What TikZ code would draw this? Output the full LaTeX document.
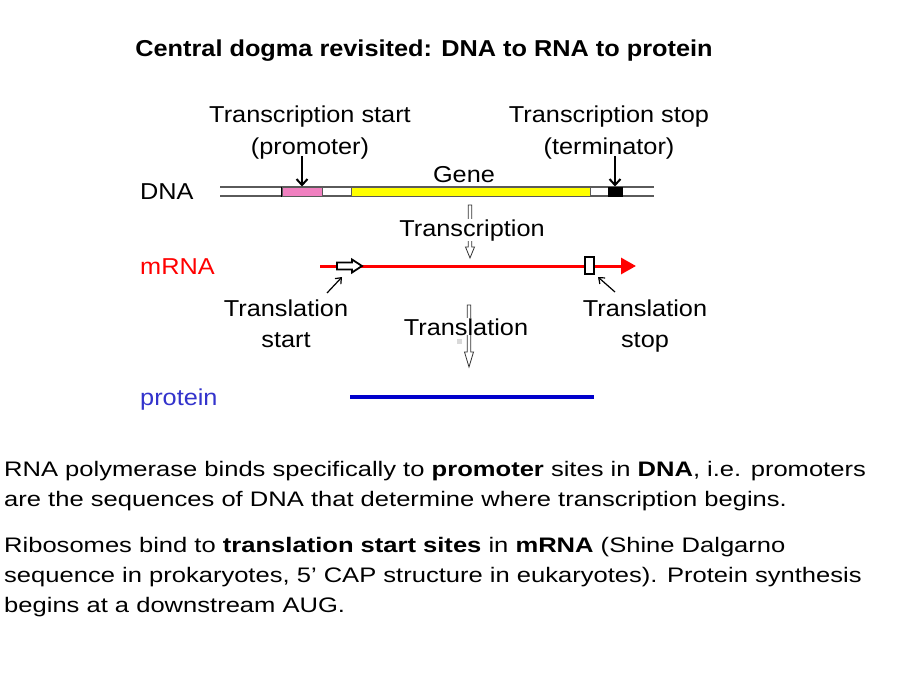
\documentclass[tikz,border=0pt]{standalone}
\usepackage{fontspec}
\setmainfont{Liberation Sans}
\newfontfamily\labfont[FakeStretch=1.1]{Liberation Sans}
\newfontfamily\parfont[FakeStretch=1.217]{Liberation Sans}
\usetikzlibrary{arrows.meta}
\definecolor{mred}{RGB}{255,0,0}
\definecolor{pblue}{RGB}{0,0,204}
\definecolor{ptext}{RGB}{51,51,204}
\definecolor{pinkc}{RGB}{240,128,192}
\definecolor{yell}{RGB}{255,255,0}
\definecolor{dnag}{RGB}{90,90,90}
\begin{document}
\begin{tikzpicture}[x=1pt,y=-1pt,
  titlestyle/.style={font=\labfont\bfseries\fontsize{23}{27}\selectfont, inner sep=0pt, anchor=base},
  lab/.style={font=\labfont\fontsize{23}{27}\selectfont, inner sep=0pt, anchor=base},
  paraline/.style={font=\parfont\fontsize{21}{25}\selectfont, inner sep=0pt, anchor=base west},
  dnabox/.style={draw=dnag, line width=1pt, minimum height=9pt, inner sep=0pt},
  downarrow/.style={black, line width=2pt, -{Straight Barb[length=6pt,width=11pt]}},
  pointer/.style={black, line width=1.2pt, -{Straight Barb[length=5pt,width=8pt]}},
  hollow/.style={draw=black!80, line width=0.8pt, fill=white}]
\fill[white] (0,0) rectangle (920,690);
\useasboundingbox (0,0) rectangle (920,690);

% title
\node[titlestyle] (title) at (424,57) {Central dogma revisited: DNA to RNA to protein};

% top labels
\node[lab] (tss1) at (310,122) {Transcription start};
\node[lab] (tss2) at (310,154) {(promoter)};
\node[lab] (tst1) at (609,122) {Transcription stop};
\node[lab] (tst2) at (609,154) {(terminator)};

% DNA
\node[lab, anchor=base west] (dnal) at (140,199) {DNA};
\draw[dnag, line width=1.3pt] (220,187) -- (654,187) (220,196) -- (654,196);
\node[dnabox, fill=pinkc, minimum width=40pt] (prom) at (302,191.5) {};
\draw[black, line width=1.2pt] (prom.north west) -- (prom.south west);
\node[dnabox, fill=yell, minimum width=239pt] (genebox) at (470.5,191.5) {};
\node[dnabox, draw=black, fill=black, minimum width=14pt] (term) at (615,191.5) {};
\node[lab] (gene) at (464,182) {Gene};
\coordinate (pa) at (302,156);
\coordinate (ta) at (615,156);
\draw[downarrow] (pa) -- (prom.north);
\draw[downarrow] (ta) -- (term.north);

% transcription arrow
\draw[hollow] (468.2,205) -- (471.8,205) -- (471.8,247) -- (474.5,247) -- (470,258) -- (465.5,247) -- (468.2,247) -- cycle;
\node[lab, fill=white] (trx) at (472,236) {Transcription};

% mRNA
\node[lab, anchor=base west, text=mred] (mrnal) at (140,274) {mRNA};
\coordinate (ms) at (320,266);
\coordinate (me) at (636,266);
\draw[mred, line width=3pt, -{Triangle[length=15pt,width=16pt]}] (ms) -- (me);
\draw[black, line width=1.8pt, fill=white] (337,262.5) -- (352,262.5) -- (352,259.5) -- (362,266) -- (352,272.5) -- (352,269.5) -- (337,269.5) -- cycle;
\node[draw=black, fill=white, line width=1.5pt, minimum width=9pt, minimum height=17pt, inner sep=0pt] (stopbox) at (589.5,265.5) {};

% translation start / stop labels
\node[lab] (tls1) at (286,316) {Translation};
\node[lab] (tls2) at (286,347) {start};
\node[lab] (tlp1) at (645,316) {Translation};
\node[lab] (tlp2) at (645,347) {stop};
\coordinate (tsa) at (327,293);
\coordinate (tsb) at (342,277);
\coordinate (tpa) at (615,292);
\coordinate (tpb) at (598,277);
\draw[pointer] (tsa) -- (tsb);
\draw[pointer] (tpa) -- (tpb);

% translation arrow
\draw[hollow] (467.2,305) -- (470.8,305) -- (470.8,352) -- (473.5,352) -- (469,367) -- (464.5,352) -- (467.2,352) -- cycle;
\node[lab, fill=white] (tlx) at (466,335) {Translation};
\fill[black!15] (457,339) rectangle (462,344);

% protein
\node[lab, anchor=base west, text=ptext] (protl) at (140,405) {protein};
\coordinate (p1) at (350,397);
\coordinate (p2) at (594,397);
\draw[pblue, line width=3.5pt] (p1) -- (p2);

% paragraphs
\node[paraline] (l1) at (4,476) {RNA polymerase binds specifically to \textbf{promoter} sites in \textbf{DNA}, i.e. promoters};
\node[paraline] (l2) at (4,506) {are the sequences of DNA that determine where transcription begins.};
\node[paraline] (l3) at (4,552) {Ribosomes bind to \textbf{translation start sites} in \textbf{mRNA} (Shine Dalgarno};
\node[paraline] (l4) at (4,582) {sequence in prokaryotes, 5’ CAP structure in eukaryotes). Protein synthesis};
\node[paraline] (l5) at (4,612) {begins at a downstream AUG.};
\end{tikzpicture}
\end{document}
